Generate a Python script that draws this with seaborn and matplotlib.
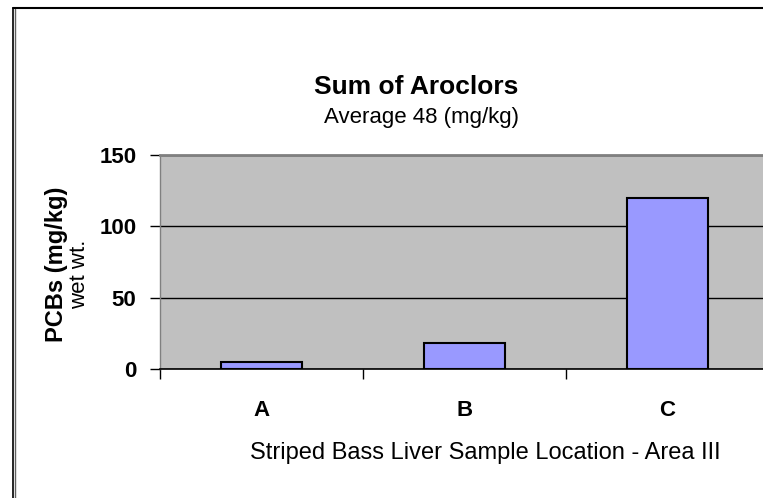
import matplotlib
matplotlib.use('Agg')
import matplotlib.pyplot as plt
import seaborn as sns
import pandas as pd
from matplotlib.lines import Line2D

# data
locations = ['A', 'B', 'C']
pcb_values = [5, 18, 120]
y_ticks = [0, 50, 100, 150]

df = pd.DataFrame({'location': locations, 'pcbs': pcb_values})

sns.set_style('white')
plt.rcParams['font.family'] = ['Liberation Sans', 'DejaVu Sans']
plt.rcParams['text.color'] = 'black'
plt.rcParams['xtick.color'] = 'black'
plt.rcParams['ytick.color'] = 'black'

W, H = 763, 498
fig = plt.figure(figsize=(W / 100, H / 100), dpi=100)

# plot area runs a little past the right edge of the picture
ax = fig.add_axes([160 / W, 1 - 369 / H, 609 / W, 214 / H])
ax.set_facecolor('#C0C0C0')

sns.barplot(data=df, x='location', y='pcbs', color='#9999FF', saturation=1,
            width=0.4, edgecolor='black', linewidth=1.5, ax=ax, zorder=3)

ax.set_xlim(-0.5, 2.5)
ax.set_ylim(0, 150)
ax.set_xlabel('')
ax.set_ylabel('')

# gridlines
ax.yaxis.grid(True, color='black', linewidth=1)
ax.set_axisbelow(True)

# y axis
ax.set_yticks(y_ticks)
ax.set_yticklabels([str(t) for t in y_ticks], fontsize=16, fontweight='bold')
ax.tick_params(axis='y', length=7, width=1, color='black', direction='out', pad=10, left=True)

# x axis: labels centred, ticks between categories
ax.set_xticks(range(len(locations)))
ax.set_xticklabels(locations, fontsize=16, fontweight='bold')
ax.set_xticks([-0.5, 0.5, 1.5, 2.5], minor=True)
ax.tick_params(axis='x', which='major', length=0, pad=22)
ax.tick_params(axis='x', which='minor', length=7, width=1, color='black', direction='out', bottom=True)

for side in ['top', 'left']:
    ax.spines[side].set_color('#808080')
ax.spines['top'].set_linewidth(2)
ax.spines['left'].set_linewidth(1)
ax.spines['bottom'].set_color('black')
ax.spines['bottom'].set_linewidth(1.2)
ax.spines['right'].set_visible(False)

# titles and labels
fig.text(416 / W, 1 - 87 / H, 'Sum of Aroclors', fontsize=19, fontweight='bold',
         ha='center', va='center')
fig.text(422 / W, 1 - 117 / H, 'Average 48 (mg/kg)', fontsize=16,
         ha='center', va='center')
fig.text(56 / W, 1 - 264 / H, 'PCBs (mg/kg)', fontsize=17, fontweight='bold',
         rotation=90, ha='center', va='center')
fig.text(80 / W, 1 - 274 / H, 'wet wt.', fontsize=16,
         rotation=90, ha='center', va='center')
fig.text(485 / W, 1 - 453 / H, 'Striped Bass Liver Sample Location - Area III',
         fontsize=17, ha='center', va='center')

# chart area border (cut off at right and bottom)
fig.add_artist(Line2D([13 / W, 13 / W], [0, 1 - 8 / H], color='black', lw=1.2,
                      transform=fig.transFigure))
fig.add_artist(Line2D([15.5 / W, 15.5 / W], [0, 1 - 9 / H], color='#606060', lw=1,
                      transform=fig.transFigure))
fig.add_artist(Line2D([13 / W, 1], [1 - 8.5 / H, 1 - 8.5 / H], color='black', lw=1.5,
                      transform=fig.transFigure))

fig.savefig('out.png', dpi=100)
